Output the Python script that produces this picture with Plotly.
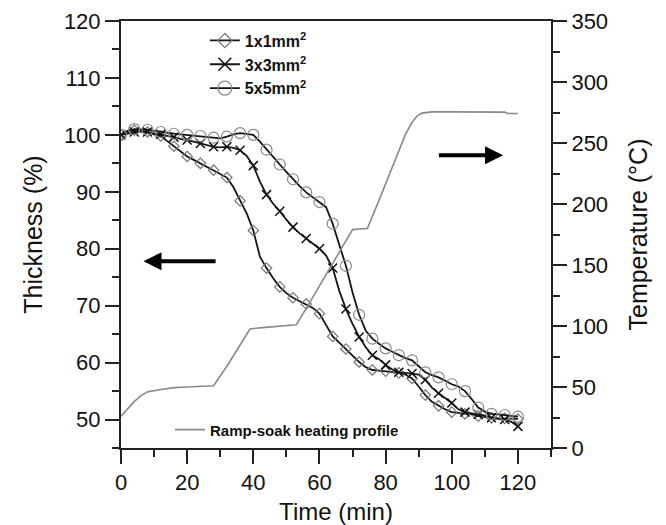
import plotly.graph_objects as go

# ---------------- data ----------------
time_min = list(range(0, 121, 2))

thick_1x1 = [100.0, 100.5, 100.8, 100.7, 100.5, 100.1, 99.8, 98.9, 98.0, 97.0,
             96.2, 95.6, 95.0, 94.4, 93.8, 93.2, 92.5, 90.8, 88.4, 86.2,
             83.2, 78.6, 76.6, 74.8, 73.3, 72.2, 71.4, 70.8, 70.3, 69.6,
             68.6, 66.5, 64.6, 63.5, 62.4, 61.2, 60.1, 59.2, 58.7, 58.6,
             58.5, 58.4, 58.2, 57.9, 57.2, 55.8, 54.3, 53.1, 52.4, 51.8,
             51.3, 51.2, 51.0, 50.9, 50.6, 50.4, 50.3, 50.2, 50.2, 50.1, 50.1]

thick_3x3 = [100.0, 100.2, 100.5, 100.6, 100.5, 100.3, 100.1, 99.8, 99.6, 99.3,
             99.1, 98.8, 98.5, 98.2, 97.9, 97.8, 97.9, 97.7, 97.3, 96.3,
             94.6, 91.8, 89.5, 87.9, 86.6, 85.1, 83.8, 82.7, 81.8, 80.9,
             80.0, 78.8, 76.6, 72.6, 69.4, 66.8, 64.5, 62.7, 61.3, 60.6,
             59.6, 58.8, 58.3, 58.2, 58.1, 57.9, 57.0, 55.6, 54.6, 53.7,
             52.9, 51.8, 51.3, 51.1, 50.9, 50.7, 50.3, 50.2, 50.0, 49.6, 48.8]

thick_5x5 = [100.0, 100.7, 101.0, 101.0, 100.9, 100.7, 100.5, 100.3, 100.2, 100.1,
             100.0, 99.9, 99.8, 99.6, 99.5, 99.4, 99.7, 100.1, 100.3, 100.1,
             100.0, 98.8, 97.4, 96.1, 94.8, 93.5, 92.2, 91.0, 89.9, 89.0,
             88.2, 87.3, 84.4, 80.6, 77.0, 72.3, 68.4, 65.6, 64.2, 63.3,
             62.5, 61.9, 61.3, 60.8, 60.4, 59.3, 58.3, 57.8, 57.4, 56.8,
             56.2, 55.8, 55.0, 53.6, 52.1, 51.4, 51.0, 50.9, 50.8, 50.6, 50.5]

temp_time = [0, 2, 4, 6, 8, 12, 16, 20, 24, 28, 32, 36, 39, 42, 46, 50, 53,
             56, 60, 64, 68, 70, 72, 74.5, 78, 82, 86, 88, 89.5, 91, 94, 100,
             110, 116, 117, 120]
temp_c = [26, 32, 38, 43, 46, 48, 49.5, 50, 50.5, 51, 67, 84, 97.5, 98.5, 99.5,
          100.5, 101, 114.5, 133, 151, 170, 179, 179.5, 180, 203, 230, 257, 267,
          272, 274.5, 275.5, 275.5, 275.5, 275.3, 274.2, 274.2]

x_ticks = [0, 20, 40, 60, 80, 100, 120]
y_ticks = [50, 60, 70, 80, 90, 100, 110, 120]
y2_ticks = [0, 50, 100, 150, 200, 250, 300, 350]

series_names = ["<b>1x1mm<sup>2</sup></b>", "<b>3x3mm<sup>2</sup></b>", "<b>5x5mm<sup>2</sup></b>"]
profile_name = "<b>Ramp-soak heating profile</b>"

# ---------------- figure ----------------
FONT = "Liberation Sans, Arial, sans-serif"
fig = go.Figure()

styles = [
    dict(symbol="diamond-open", color="#777777", size=8, lsize=11, lw=1.2),
    dict(symbol="x-thin", color="#111111", size=9, lsize=13, lw=1.5),
    dict(symbol="circle-open", color="#8a8a8a", size=11, lsize=14, lw=1.2),
]

for name, vals, st in zip(series_names, [thick_1x1, thick_3x3, thick_5x5], styles):
    fig.add_trace(go.Scatter(
        x=time_min, y=vals, mode="lines",
        line=dict(color="#151515", width=1.8),
        showlegend=False, hoverinfo="skip"))
    fig.add_trace(go.Scatter(
        x=time_min[::2], y=vals[::2], mode="markers",
        marker=dict(symbol=st["symbol"], size=st["size"], color=st["color"],
                    line=dict(color=st["color"], width=st["lw"])),
        showlegend=False, hoverinfo="skip"))
    fig.add_trace(go.Scatter(
        x=[None], y=[None], mode="lines+markers", name=name,
        legend="legend", legendgroup=name,
        line=dict(color="#151515", width=1.8),
        marker=dict(symbol=st["symbol"], size=st["lsize"], color=st["color"],
                    line=dict(color=st["color"], width=st["lw"]))))

fig.add_trace(go.Scatter(
    x=temp_time, y=temp_c, yaxis="y2", mode="lines", name=profile_name,
    legend="legend2", line=dict(color="#8a8a8a", width=1.6), hoverinfo="skip"))

axis_common = dict(
    showgrid=False, zeroline=False, showline=True, linecolor="#222222",
    linewidth=2, ticks="outside", ticklen=14, tickwidth=2, tickcolor="#222222",
    tickfont=dict(family=FONT, size=22, color="#111111"), automargin=False,
)

fig.update_layout(
    width=666, height=525,
    margin=dict(l=121, r=115, t=21, b=77, autoexpand=False),
    paper_bgcolor="white", plot_bgcolor="white",
    font=dict(family=FONT, color="#111111"),
    xaxis=dict(
        range=[0, 130], tickvals=x_ticks, mirror=True,
        minor=dict(dtick=10, tick0=0, ticks="outside", ticklen=7, tickwidth=2, tickcolor="#222222"),
        title=dict(text="Time (min)", font=dict(family=FONT, size=24), standoff=10),
        **axis_common),
    yaxis=dict(
        range=[45, 120], tickvals=y_ticks,
        minor=dict(dtick=5, tick0=0, ticks="outside", ticklen=7, tickwidth=2, tickcolor="#222222"),
        title=dict(text="Thickness (%)", font=dict(family=FONT, size=25), standoff=14),
        **axis_common),
    yaxis2=dict(
        range=[0, 350], tickvals=y2_ticks, overlaying="y", side="right",
        minor=dict(dtick=25, tick0=0, ticks="outside", ticklen=7, tickwidth=2, tickcolor="#222222"),
        title=dict(text="Temperature (\u00b0C)", font=dict(family=FONT, size=25), standoff=22),
        **axis_common),
    legend=dict(
        x=0.195, y=0.994, xanchor="left", yanchor="top",
        bgcolor="rgba(0,0,0,0)", font=dict(family=FONT, size=16, color="#111111"),
        tracegroupgap=0, itemwidth=30),
    legend2=dict(
        x=0.114, y=0.081, xanchor="left", yanchor="top",
        bgcolor="rgba(0,0,0,0)", font=dict(family=FONT, size=15, color="#111111"),
        itemwidth=30),
    annotations=[
        dict(x=6.8, y=77.8, ax=29.5, ay=77.8, xref="x", yref="y", axref="x", ayref="y",
             showarrow=True, arrowhead=2, arrowwidth=4, arrowsize=0.9, arrowcolor="#000000"),
        dict(x=115.5, y=96.4, ax=95.2, ay=96.4, xref="x", yref="y", axref="x", ayref="y",
             showarrow=True, arrowhead=2, arrowwidth=4, arrowsize=0.9, arrowcolor="#000000"),
    ],
)

fig.write_html("out.html")
